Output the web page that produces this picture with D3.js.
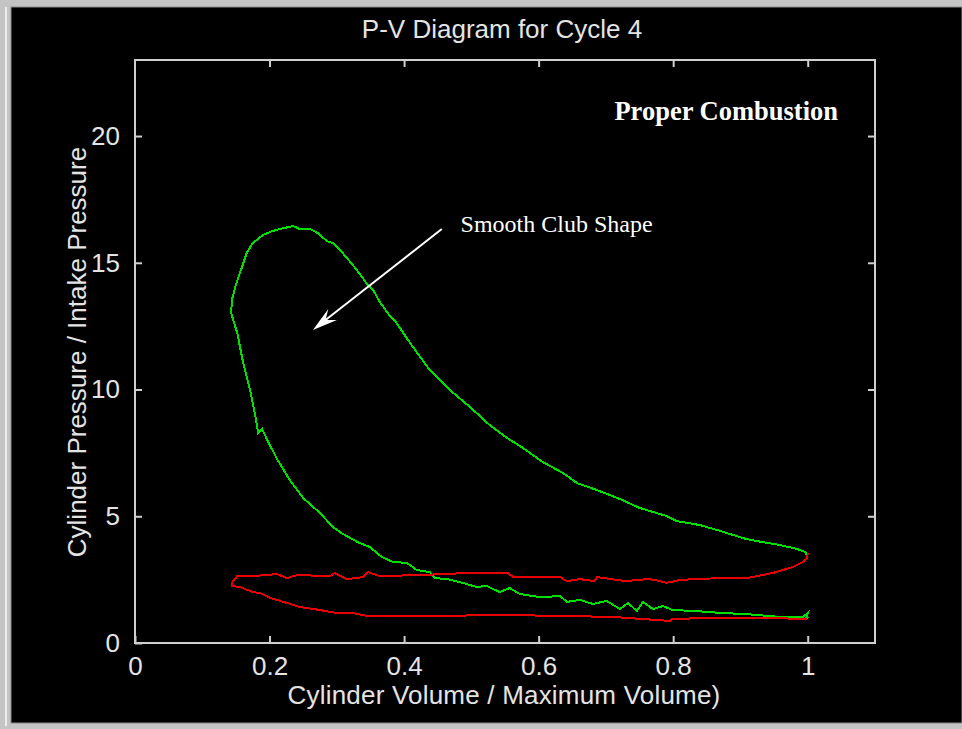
<!DOCTYPE html>
<html>
<head>
<meta charset="utf-8">
<script src="https://cdn.jsdelivr.net/npm/d3@7"></script>
<style>
    html, body { margin: 0; padding: 0; background: #c4c4c4; }
    #chart { width: 962px; height: 729px; }
</style>
</head>
<body>
<div id="chart"></div>
<script>
// P-V diagram values (volume ratio, pressure ratio)
var greenV = [1.000, 0.997, 1.000, 0.993, 0.958, 0.909, 0.874, 0.835, 0.799, 0.785,
    0.770, 0.755, 0.746, 0.733, 0.721, 0.701, 0.681, 0.661, 0.642, 0.632,
    0.602, 0.572, 0.557, 0.542, 0.523, 0.508, 0.487, 0.464, 0.446, 0.438,
    0.419, 0.404, 0.383, 0.367, 0.349, 0.334, 0.309, 0.294, 0.275, 0.250,
    0.230, 0.212, 0.198, 0.189, 0.183, 0.180, 0.178, 0.171, 0.160, 0.152,
    0.146, 0.143, 0.144, 0.149, 0.156, 0.166, 0.175, 0.190, 0.204, 0.215,
    0.235, 0.245, 0.260, 0.272, 0.285, 0.294, 0.305, 0.315, 0.330, 0.345,
    0.354, 0.364, 0.379, 0.389, 0.409, 0.438, 0.468, 0.498, 0.527, 0.553,
    0.577, 0.606, 0.636, 0.657, 0.686, 0.721, 0.750, 0.790, 0.805, 0.840,
    0.865, 0.889, 0.909, 0.933, 0.958, 0.984, 0.996, 0.999];
var greenP = [1.03, 0.91, 1.18, 1.03, 1.03, 1.14, 1.18, 1.26, 1.30, 1.46,
    1.34, 1.62, 1.26, 1.58, 1.34, 1.66, 1.54, 1.70, 1.62, 1.85,
    1.81, 1.93, 2.17, 2.01, 2.25, 2.21, 2.37, 2.52, 2.56, 2.80,
    2.88, 3.16, 3.20, 3.39, 3.79, 3.94, 4.30, 4.58, 5.13, 5.72,
    6.43, 7.22, 7.93, 8.44, 8.28, 8.80, 9.07, 9.98, 11.16, 12.23,
    12.74, 13.02, 13.53, 14.04, 14.60, 15.38, 15.78, 16.09, 16.25, 16.33,
    16.45, 16.33, 16.33, 16.17, 15.86, 15.78, 15.50, 15.19, 14.71, 14.16,
    13.93, 13.45, 12.90, 12.62, 11.83, 10.77, 9.98, 9.31, 8.60, 8.09,
    7.69, 7.14, 6.71, 6.31, 6.04, 5.68, 5.33, 5.01, 4.81, 4.65,
    4.46, 4.26, 4.10, 3.98, 3.87, 3.71, 3.59, 3.47];

var redV = [1.000, 0.999, 0.993, 0.978, 0.948, 0.909, 0.869, 0.835, 0.810, 0.790,
    0.773, 0.761, 0.729, 0.687, 0.683, 0.661, 0.642, 0.632, 0.562, 0.554,
    0.493, 0.423, 0.364, 0.346, 0.339, 0.315, 0.297, 0.290, 0.241, 0.226,
    0.211, 0.175, 0.152, 0.144, 0.144, 0.156, 0.175, 0.186, 0.201, 0.226,
    0.245, 0.275, 0.300, 0.324, 0.345, 0.423, 0.562, 0.710, 0.795, 0.799,
    0.859, 0.929, 0.999];
var redP = [3.55, 3.35, 3.20, 3.00, 2.76, 2.56, 2.56, 2.52, 2.49, 2.37,
    2.49, 2.52, 2.44, 2.60, 2.44, 2.52, 2.44, 2.60, 2.60, 2.76,
    2.76, 2.68, 2.64, 2.80, 2.60, 2.52, 2.76, 2.64, 2.68, 2.56,
    2.72, 2.64, 2.64, 2.37, 2.25, 2.21, 2.01, 1.97, 1.78, 1.58,
    1.42, 1.30, 1.18, 1.18, 1.07, 1.07, 1.10, 1.03, 0.87, 0.95,
    0.99, 0.99, 0.95];

var xTicks = [0, 0.2, 0.4, 0.6, 0.8, 1];
var yTicks = [0, 5, 10, 15, 20];

var svgWidth = 962, svgHeight = 729;
var margin = { top: 60, right: 87, bottom: 86, left: 135 };
var width = svgWidth - margin.left - margin.right;
var height = svgHeight - margin.top - margin.bottom;

var axisColor = '#cfcfcf';
var textColor = '#e4e4e4';
var sans = '"Liberation Sans", Arial, Helvetica, sans-serif';
var serif = '"Liberation Serif", "Times New Roman", serif';

var svg = d3.select('#chart').append('svg')
    .attr('width', svgWidth)
    .attr('height', svgHeight);

// window frame
svg.append('rect').attr('x', 0).attr('y', 0).attr('width', svgWidth).attr('height', svgHeight).attr('fill', '#c4c4c4');
svg.append('line').attr('x1', 6).attr('y1', 7).attr('x2', 6).attr('y2', 726).attr('stroke', '#ececec').attr('stroke-width', 2);
svg.append('rect').attr('x', 11).attr('y', 7).attr('width', svgWidth - 11).attr('height', 716)
    .attr('fill', '#000').attr('stroke', '#8a8a8a').attr('stroke-width', 1);

var g = svg.append('g').attr('transform', 'translate(' + margin.left + ',' + margin.top + ')');

var x = d3.scaleLinear().domain([0, 1.1]).range([0, width]);
var y = d3.scaleLinear().domain([0, 23]).range([height, 0]);

// axes: ticks inward on all four sides
function styleAxis(sel) {
    sel.select('.domain').remove();
    sel.selectAll('.tick line').attr('stroke', axisColor).attr('stroke-width', 2);
    sel.selectAll('.tick text').attr('fill', textColor)
        .style('font-family', sans).style('font-size', '26px');
}

g.append('g').attr('transform', 'translate(0,' + height + ')')
    .call(d3.axisBottom(x).tickValues(xTicks).tickSize(-7).tickPadding(14).tickFormat(d3.format('')))
    .call(styleAxis);
g.append('g')
    .call(d3.axisTop(x).tickValues(xTicks.slice(1)).tickSize(-7).tickFormat(''))
    .call(styleAxis);
g.append('g')
    .call(d3.axisLeft(y).tickValues(yTicks).tickSize(-7).tickPadding(15))
    .call(styleAxis);
g.append('g').attr('transform', 'translate(' + width + ',0)')
    .call(d3.axisRight(y).tickValues(yTicks.slice(1)).tickSize(-7).tickFormat(''))
    .call(styleAxis);

g.append('rect')
    .attr('x', 0).attr('y', 0).attr('width', width).attr('height', height)
    .attr('fill', 'none').attr('stroke', axisColor).attr('stroke-width', 2);

// curves
var line = d3.line()
    .x(d => x(d[0]))
    .y(d => y(d[1]));

var series = [
    { v: greenV, p: greenP, color: '#00e000' },
    { v: redV, p: redP, color: '#e80000' }
];

g.selectAll('path.cycle')
    .data(series)
    .enter().append('path')
    .attr('class', 'cycle')
    .attr('d', d => line(d.v.map((v, i) => [v, d.p[i]])))
    .attr('fill', 'none')
    .attr('stroke', d => d.color)
    .attr('stroke-width', 2)
    .attr('shape-rendering', 'crispEdges');

// annotations
var arrowFrom = [0.456, 16.33], arrowTo = [0.2645, 12.35];
var ax0 = x(arrowFrom[0]), ay0 = y(arrowFrom[1]);
var ax1 = x(arrowTo[0]), ay1 = y(arrowTo[1]);
var len = Math.hypot(ax0 - ax1, ay0 - ay1);
var ux = (ax0 - ax1) / len, uy = (ay0 - ay1) / len;
var nx = -uy, ny = ux;

g.append('line')
    .attr('x1', ax0).attr('y1', ay0)
    .attr('x2', ax1 + ux * 14).attr('y2', ay1 + uy * 14)
    .attr('stroke', '#fff').attr('stroke-width', 2);

var headLen = 25, headW = 7, notch = 16;
g.append('path')
    .attr('d', 'M' + ax1 + ',' + ay1 +
        'L' + (ax1 + ux * headLen + nx * headW) + ',' + (ay1 + uy * headLen + ny * headW) +
        'L' + (ax1 + ux * notch) + ',' + (ay1 + uy * notch) +
        'L' + (ax1 + ux * headLen - nx * headW) + ',' + (ay1 + uy * headLen - ny * headW) + 'Z')
    .attr('fill', '#fff');

g.append('text')
    .attr('x', x(0.484)).attr('y', y(16.21))
    .attr('fill', '#fff')
    .style('font-family', serif).style('font-size', '24px')
    .text('Smooth Club Shape');

g.append('text')
    .attr('x', x(1.045)).attr('y', y(20.63))
    .attr('text-anchor', 'end')
    .attr('fill', '#fff')
    .style('font-family', serif).style('font-size', '26.5px').style('font-weight', 'bold')
    .text('Proper Combustion');

// titles
svg.append('text')
    .attr('x', margin.left + width / 2 - 3).attr('y', 38)
    .attr('text-anchor', 'middle')
    .attr('fill', textColor)
    .style('font-family', sans).style('font-size', '26px')
    .text('P-V Diagram for Cycle 4');

svg.append('text')
    .attr('x', margin.left + width / 2 - 1).attr('y', 704)
    .attr('text-anchor', 'middle')
    .attr('fill', textColor)
    .style('font-family', sans).style('font-size', '26px').style('letter-spacing', '0.2px')
    .text('Cylinder Volume / Maximum Volume)');

svg.append('text')
    .attr('transform', 'translate(86,352) rotate(-90)')
    .attr('text-anchor', 'middle')
    .attr('fill', textColor)
    .style('font-family', sans).style('font-size', '26px')
    .text('Cylinder Pressure / Intake Pressure');
</script>
</body>
</html>
